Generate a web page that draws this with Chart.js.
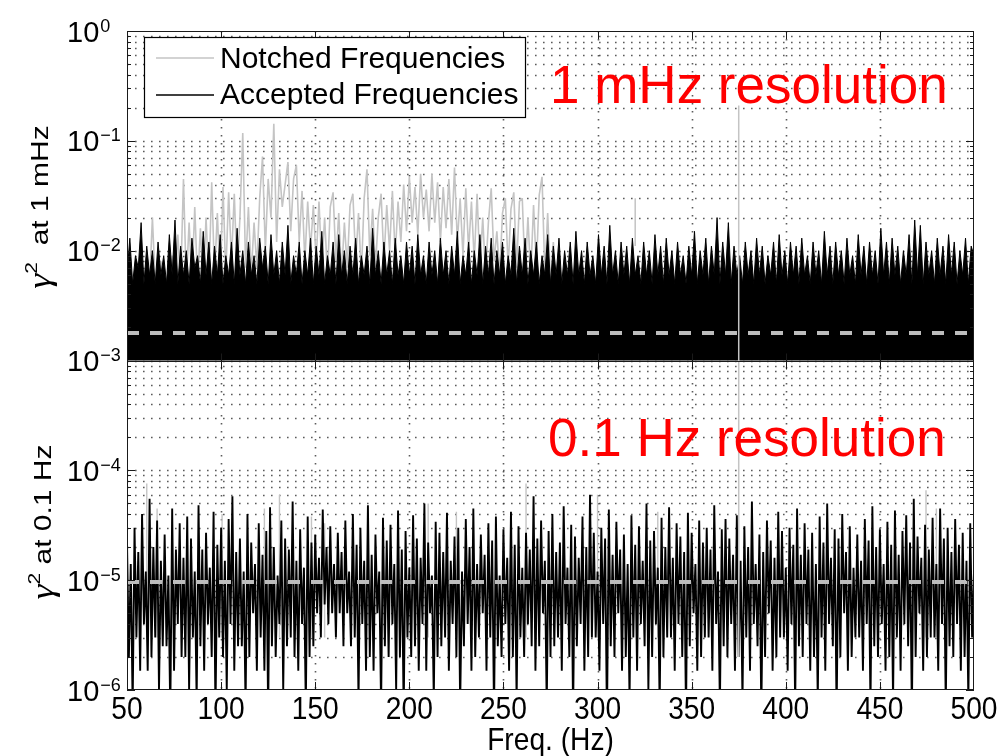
<!DOCTYPE html>
<html>
<head>
<meta charset="utf-8">
<script src="https://cdn.jsdelivr.net/npm/chart.js@4.4.1/dist/chart.umd.min.js"></script>
<style>
html,body{margin:0;padding:0;background:#fff;}
canvas{display:block;}
</style>
</head>
<body>
<canvas id="c" width="1001" height="756"></canvas>
<script>
// ---------- axis / tick definitions ----------
const xTicks = [50, 100, 150, 200, 250, 300, 350, 400, 450, 500];
const yDecadeExps = [0, -1, -2, -3, -4, -5, -6];
const yMinorMult = [1, 2, 3, 4, 5, 6, 7, 8, 9];

// ---------- 1 mHz resolution (upper), values in units of 1e-3 ----------
// accepted frequencies, sampled every 1.5 Hz starting at 50 Hz
const upperStart = 50, upperStep = 1.5;
const upperAccepted = [
 6,13,5,9,7,18,5,11,6,10, 5,12,6,9,5,14,6,19,5,11, 6,10,5,13,7,9,5,15,6,12,
 5,11,6,14,5,9,6,12,5,16, 6,10,5,12,6,9,5,13,7,11, 5,14,6,10,5,12,6,17,5,9,
 6,12,5,10,6,13,5,11,6,15, 5,9,6,12,5,14,6,10,5,11, 6,13,5,9,6,11,5,16,6,10,
 5,12,6,10,5,13,6,9,5,12, 6,11,5,14,6,9,5,12,6,10, 5,13,6,10,5,11,6,15,5,9,
 6,12,5,10,6,14,5,11,6,13, 5,10,6,12,5,9,6,16,5,11, 6,13,5,10,6,12,5,9,6,14,
 5,11,6,13,5,10,6,12,5,15, 6,10,5,12,6,9,5,14,6,11, 5,17,6,10,5,12,6,11,5,13,
 6,9,5,12,6,10,5,14,6,11, 5,13,6,10,5,12,6,9,5,11, 6,15,5,10,6,13,5,11,6,20,
 5,12,6,18,5,11,6,9,5,12, 6,10,5,13,6,11,5,9,6,12, 5,14,6,10,5,12,6,11,5,13,
 6,9,5,12,6,10,5,15,6,11, 5,12,6,10,5,13,6,9,5,14, 6,11,5,12,6,10,5,16,6,12,
 5,13,6,11,5,10,6,14,5,19, 6,17,5,12,6,10,5,13,6,11, 5,14,6,12,5,10,6,13,5,11,
 9
];
// notched frequencies, sampled every 1.5 Hz starting at 59 Hz
const notchedStart = 59, notchedStep = 1.5;
const upperNotched = [
 5,5,5,20,5,5,8,5,5,5, 9,5,14,5,45,5,18,5,25,5,
 16,5,20,5,42,6,22,5,38,6, 34,8,33,6,20,118,7,25,6,18,
 7,30,72,10,45,20,143,12,55,25, 40,64,15,45,60,12,35,8,28,10,
 26,8,28,7,20,6,25,34,8,22, 6,18,7,26,33,8,22,6,30,55,
 9,24,7,20,33,8,26,10,35,9, 28,12,40,15,47,18,38,14,50,20,
 36,15,50,18,42,12,38,16,45,14, 57,12,30,9,37,10,28,8,33,7,
 20,6,18,37,8,15,6,22,30,7, 24,34,7,28,30,6,20,6,26,7,
 32,47,6,22,5,12,5
];
// isolated notched lines
const isolatedFreq = [320, 375];
const isolatedTop = [0.030, 0.21];
const isolatedBottom = [0.011, 0.000002];
const upperThreshold = 1.78e-3;

// ---------- 0.1 Hz resolution (lower), values in units of 1e-6 ----------
// accepted frequencies, sampled every 1 Hz starting at 50 Hz
const lowerStart = 50, lowerStep = 1;
const lowerAccepted = [
 22,2,14,0.7,30,3,18,1.5,40,4, 12,1.5,55,2,20,3,35,1,15,2.5, 26,2.5,11,0.6,45,1.5,19,4,33,2,
 16,2,38,1,24,3,12,0.8,48,2.5, 19,1.5,27,4,13,2,42,0.6,21,3, 30,2,15,1,36,4,58,1.5,18,2.5,
 24,2.5,12,0.7,40,2,22,5,14,1.5, 33,3,17,1.5,28,0.6,46,2.5,20,2, 11,4,35,1,24,2.5,19,3,52,2,
 15,1.5,29,4,13,0.7,38,2,22,2.5, 26,5,16,3,44,6,20,4,31,5, 14,3,27,5,18,2.5,35,5,12,2.5,
 40,3,21,0.8,30,4,15,1.5,48,2, 17,1.5,26,5,12,0.7,37,2.5,23,2, 32,4,14,1,43,2,19,0.6,28,3,
 13,2,39,2.5,24,1.5,16,4,50,1.5, 22,5,11,0.8,34,2,27,2.5,18,3, 41,1.5,15,4,25,2,30,0.7,12,2.5,
 36,4,20,1.5,45,2,14,3,26,5, 17,1.5,33,3,23,0.6,38,2.5,11,2, 29,4,16,1.5,42,2,21,0.8,31,3,
 13,2,27,4,19,2.5,58,1.5,24,2.5, 35,5,15,0.7,28,2,40,2.5,18,3, 22,1.5,47,4,13,2,32,0.6,25,2.5,
 16,4,38,1.5,20,2,60,3,27,3, 12,1.5,30,4,24,0.5,44,2.5,17,2, 34,5,19,1.5,26,2,14,0.8,39,3,
 21,1.5,31,4,15,2.5,50,1,23,2, 28,4,13,0.7,37,2,20,3,46,3, 16,1.5,33,4,25,2,18,0.6,41,2.5,
 27,5,14,1.5,35,2,22,3,30,3, 19,1.5,48,4,12,0.7,29,2.5,36,2, 24,4,17,1.5,39,2,15,0.8,31,3,
 20,1.5,52,4,14,2.5,26,0.6,18,2, 35,5,23,1.5,16,2,42,3,28,3, 13,1.5,30,4,21,0.7,45,2.5,17,2,
 33,4,19,1.5,27,2,14,0.8,38,3, 22,1.5,50,4,16,2.5,29,0.6,24,2, 40,5,18,1.5,31,2,13,3,26,3,
 15,1.5,36,4,23,0.7,47,2.5,20,2, 29,4,14,1.5,34,2,21,0.8,43,3, 17,1.5,28,4,39,2.5,22,0.6,55,2,
 25,5,16,1.5,32,2,19,3,37,3, 14,1.5,45,4,24,0.7,30,2.5,18,2, 36,4,21,1.5,27,2,15,0.8,33,3,
 12
];
// notched frequencies in the 0.1 Hz data (isolated spikes)
const lowerNotchedFreq = [60.5, 66, 100.5, 123, 131, 148, 155, 210, 225, 262, 300, 332, 474.5, 480];
const lowerNotchedTop  = [76, 45, 40, 45, 60, 38, 33, 50, 42, 76, 60, 42, 66, 45];
const lowerNotchedBase = [3, 3, 3, 3, 3, 3, 3, 3, 3, 3, 3, 3, 3, 3];
const lowerThreshold = 9.6e-6;

// ---------- build datasets ----------
const upperAcceptedData = upperAccepted.map((v, i) => ({ x: upperStart + upperStep * i, y: v * 1e-3 }));
const upperNotchedData = upperNotched.map((v, i) => ({ x: notchedStart + notchedStep * i, y: v * 1e-3 }));
const isolatedData = [];
isolatedFreq.forEach((f, i) => {
  isolatedData.push({ x: f, y: isolatedBottom[i] }, { x: f, y: isolatedTop[i] }, { x: f + 0.01, y: null });
});
const lowerAcceptedData = lowerAccepted.map((v, i) => ({ x: lowerStart + lowerStep * i, y: v * 1e-6 }));
const lowerNotchedData = [];
lowerNotchedFreq.forEach((f, i) => {
  lowerNotchedData.push({ x: f, y: lowerNotchedBase[i] * 1e-6 }, { x: f, y: lowerNotchedTop[i] * 1e-6 }, { x: f + 0.01, y: null });
});
const xMin = xTicks[0], xMax = xTicks[xTicks.length - 1];

const NOTCH_GRAY = '#c4c4c4';
const DASH_GRAY = '#bdbdbd';
const lineBase = { pointRadius: 0, borderWidth: 1, tension: 0, borderJoinStyle: 'bevel', spanGaps: false };

const datasets = [
  Object.assign({}, lineBase, { label: 'notched lines', data: isolatedData, borderColor: NOTCH_GRAY, borderWidth: 1.5 }),
  Object.assign({}, lineBase, { label: 'threshold 1 mHz', data: [{x: xMin, y: upperThreshold}, {x: xMax, y: upperThreshold}], borderColor: DASH_GRAY, borderWidth: 4, borderDash: [12, 11] }),
  Object.assign({}, lineBase, { label: 'threshold 0.1 Hz', data: [{x: xMin, y: lowerThreshold}, {x: xMax, y: lowerThreshold}], borderColor: DASH_GRAY, borderWidth: 4, borderDash: [12, 11] }),
  Object.assign({}, lineBase, { label: 'Accepted Frequencies', data: upperAcceptedData, borderColor: '#000', backgroundColor: '#000', fill: { value: 1e-3 } }),
  Object.assign({}, lineBase, { label: 'Notched Frequencies', data: upperNotchedData, borderColor: NOTCH_GRAY, borderWidth: 1.6 }),
  Object.assign({}, lineBase, { label: 'Accepted (0.1 Hz)', data: lowerAcceptedData, borderColor: '#000', borderWidth: 1.9 }),
  Object.assign({}, lineBase, { label: 'Notched (0.1 Hz)', data: lowerNotchedData, borderColor: NOTCH_GRAY, borderWidth: 1.4 })
];

// ---------- MATLAB-like decorations ----------
const SANS = '"Liberation Sans", Arial, sans-serif';

function hLine(ctx, x1, x2, y) { ctx.beginPath(); ctx.moveTo(x1, y); ctx.lineTo(x2, y); ctx.stroke(); }
function vLine(ctx, x, y1, y2) { ctx.beginPath(); ctx.moveTo(x, y1); ctx.lineTo(x, y2); ctx.stroke(); }

const gridPlugin = {
  id: 'matlabGrid',
  beforeDatasetsDraw(chart) {
    const { ctx, chartArea: a, scales: { x, y } } = chart;
    ctx.save();
    ctx.strokeStyle = 'rgba(50,50,50,0.8)';
    ctx.lineWidth = 1.6;
    ctx.setLineDash([1.6, 6.4]);
    for (const e of yDecadeExps) {
      for (const m of yMinorMult) {
        const v = m * Math.pow(10, e);
        if (v <= y.min * 1.0001 || v >= y.max * 0.9999) continue;
        const py = Math.round(y.getPixelForValue(v)) + 0.5;
        hLine(ctx, a.left, a.right, py);
      }
    }
    for (const t of xTicks) {
      if (t <= x.min || t >= x.max) continue;
      const px = Math.round(x.getPixelForValue(t)) + 0.5;
      vLine(ctx, px, a.top, a.bottom);
    }
    ctx.restore();
  },
  afterDatasetsDraw(chart) {
    const { ctx, chartArea: a, scales: { x, y } } = chart;
    ctx.save();
    ctx.setLineDash([]);
    ctx.strokeStyle = '#1a1a1a';
    ctx.lineWidth = 1;
    ctx.strokeRect(a.left + 0.5, a.top + 0.5, a.right - a.left - 1, a.bottom - a.top - 1);
    const mid = Math.round(y.getPixelForValue(1e-3)) + 0.5;
    hLine(ctx, a.left, a.right, mid);
    for (const t of xTicks) {
      if (t <= x.min || t >= x.max) continue;
      const px = Math.round(x.getPixelForValue(t)) + 0.5;
      vLine(ctx, px, a.bottom, a.bottom - 8);
      vLine(ctx, px, a.top, a.top + 8);
      vLine(ctx, px, mid, mid + 8);
      vLine(ctx, px, mid, mid - 8);
    }
    for (const e of yDecadeExps) {
      for (const m of yMinorMult) {
        const v = m * Math.pow(10, e);
        if (v < y.min * 0.9999 || v > y.max * 1.0001) continue;
        const py = Math.round(y.getPixelForValue(v)) + 0.5;
        const len = m === 1 ? 8 : 4;
        hLine(ctx, a.left, a.left + len, py);
        hLine(ctx, a.right - len, a.right, py);
      }
    }
    ctx.restore();
  },
  afterDraw(chart) {
    const { ctx, chartArea: a, scales: { x, y } } = chart;
    ctx.save();
    ctx.fillStyle = '#000';
    // y tick labels: 10^n
    for (const e of yDecadeExps) {
      const py = y.getPixelForValue(Math.pow(10, e));
      ctx.font = '29px ' + SANS;
      ctx.textAlign = 'left';
      ctx.textBaseline = 'alphabetic';
      ctx.fillText('10', 67, py + 10.5);
      const w = ctx.measureText('10').width;
      ctx.font = '18px ' + SANS;
      ctx.fillText(e === 0 ? '0' : '\u2212' + Math.abs(e), 67 + w + 1, py + 0.5);
    }
    // x tick labels (condensed)
    ctx.font = '32px ' + SANS;
    ctx.textAlign = 'center';
    for (const t of xTicks) {
      const px = x.getPixelForValue(t);
      ctx.save();
      ctx.translate(px, a.bottom + 29);
      ctx.scale(0.88, 1);
      ctx.fillText(String(t), 0, 0);
      ctx.restore();
    }
    // x axis title
    ctx.save();
    ctx.translate((a.left + a.right) / 2, 750);
    ctx.scale(0.88, 1);
    ctx.font = '32px ' + SANS;
    ctx.fillText('Freq. (Hz)', 0, 0);
    ctx.restore();

    // y axis titles (rotated, condensed)
    function yTitle(rest, cy, bx) {
      const parts = [
        { t: '\u03b3', f: 'italic 38px "Liberation Serif", serif', dy: 3 },
        { t: '2', f: '21px ' + SANS, dy: -14 },
        { t: rest, f: '30px ' + SANS, dy: 0 }
      ];
      let total = 0;
      for (const p of parts) { ctx.font = p.f; p.w = ctx.measureText(p.t).width; total += p.w; }
      ctx.save();
      ctx.translate(bx, cy);
      ctx.rotate(-Math.PI / 2);
      ctx.scale(1, 0.82);
      ctx.textAlign = 'left';
      ctx.textBaseline = 'alphabetic';
      let cx = -total / 2;
      for (const p of parts) { ctx.font = p.f; ctx.fillText(p.t, cx, p.dy); cx += p.w; }
      ctx.restore();
    }
    yTitle('  at 1 mHz', 207, 48);
    yTitle(' at 0.1 Hz', 522, 51);

    // legend
    ctx.fillStyle = '#fff';
    ctx.fillRect(144, 37, 381, 80);
    ctx.strokeStyle = '#000';
    ctx.lineWidth = 1.2;
    ctx.strokeRect(144.5, 37.5, 381, 80);
    ctx.lineWidth = 1.5;
    ctx.strokeStyle = NOTCH_GRAY;
    hLine(ctx, 156, 214, 58);
    ctx.strokeStyle = '#000';
    hLine(ctx, 156, 214, 95);
    ctx.fillStyle = '#000';
    ctx.font = '30px ' + SANS;
    ctx.textAlign = 'left';
    ctx.fillText('Notched Frequencies', 220, 68);
    ctx.fillText('Accepted Frequencies', 220, 104);

    // red annotations
    ctx.fillStyle = '#ff0000';
    ctx.font = '53px ' + SANS;
    ctx.fillText('1 mHz resolution', 550, 103);
    ctx.fillText('0.1 Hz resolution', 548, 456);
    ctx.restore();
  }
};

new Chart(document.getElementById('c'), {
  type: 'line',
  data: { datasets },
  options: {
    responsive: false,
    animation: false,
    events: [],
    layout: { padding: { left: 127, right: 27, top: 31, bottom: 66 } },
    plugins: { legend: { display: false }, tooltip: { enabled: false } },
    scales: {
      x: { type: 'linear', min: xMin, max: xMax, display: false },
      y: { type: 'logarithmic', min: 1e-6, max: 1, display: false }
    }
  },
  plugins: [gridPlugin]
});
</script>
</body>
</html>
